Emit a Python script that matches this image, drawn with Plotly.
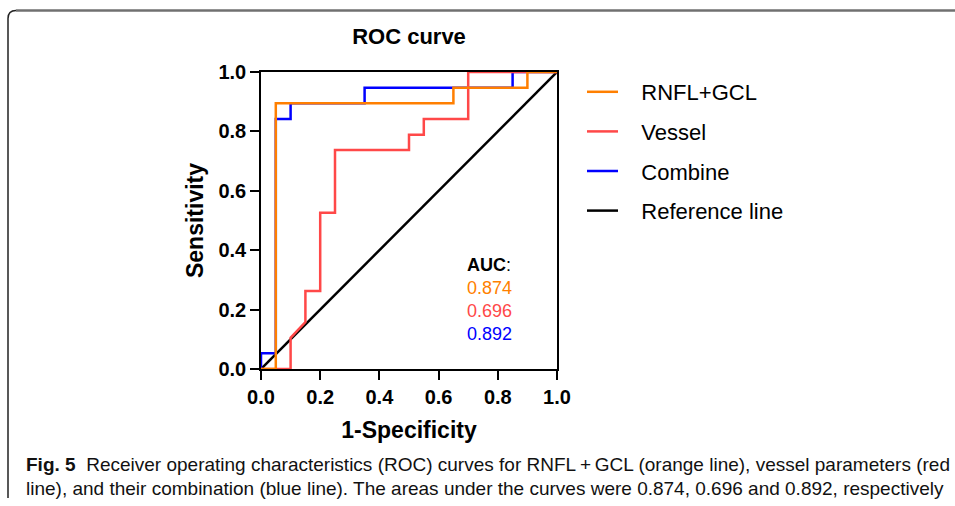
import plotly.graph_objects as go

# ---- data ----
rnfl_fpr = [0.0, 0.05, 0.05, 0.65, 0.65, 0.90, 0.90, 1.0]
rnfl_tpr = [0.0, 0.0, 0.895, 0.895, 0.947, 0.947, 1.0, 1.0]

vessel_fpr = [0.0, 0.10, 0.10, 0.15, 0.15, 0.20, 0.20, 0.25, 0.25, 0.50, 0.50, 0.55, 0.55, 0.70, 0.70, 1.0]
vessel_tpr = [0.0, 0.0, 0.105, 0.158, 0.263, 0.263, 0.526, 0.526, 0.737, 0.737, 0.789, 0.789, 0.842, 0.842, 1.0, 1.0]

combine_fpr = [0.0, 0.0, 0.05, 0.05, 0.10, 0.10, 0.35, 0.35, 0.85, 0.85, 1.0]
combine_tpr = [0.0, 0.053, 0.053, 0.842, 0.842, 0.895, 0.895, 0.947, 0.947, 1.0, 1.0]

ref_x = [0.0, 1.0]
ref_y = [0.0, 1.0]

series_names = ["RNFL+GCL", "Vessel", "Combine", "Reference line"]
auc_values = ["0.874", "0.696", "0.892"]
tick_vals = [0.0, 0.2, 0.4, 0.6, 0.8, 1.0]

ORANGE = "#FF7F00"
RED = "#FF4848"
BLUE = "#0000FF"
BLACK = "#000000"

FONT = "Liberation Sans, Arial, sans-serif"
NB = "\u00a0\u00a0\u00a0"
LW = 2.5

fig = go.Figure()
# draw order: reference, combine, vessel, rnfl (rnfl on top); legend order via legendrank
fig.add_trace(go.Scatter(x=ref_x, y=ref_y, mode="lines", name=NB + series_names[3],
                         legendgroup="d", legendrank=4, line=dict(color=BLACK, width=LW)))
fig.add_trace(go.Scatter(x=combine_fpr, y=combine_tpr, mode="lines", name=NB + series_names[2],
                         legendgroup="c", legendrank=3, line=dict(color=BLUE, width=LW)))
fig.add_trace(go.Scatter(x=vessel_fpr, y=vessel_tpr, mode="lines", name=NB + series_names[1],
                         legendgroup="b", legendrank=2, line=dict(color=RED, width=LW)))
fig.add_trace(go.Scatter(x=rnfl_fpr, y=rnfl_tpr, mode="lines", name=NB + series_names[0],
                         legendgroup="a", legendrank=1, line=dict(color=ORANGE, width=LW)))

W, H = 955, 506
L, R, T, B = 261, 557, 72, 369
pw, ph = R - L, B - T

def px(xp):
    return (xp - L) / pw

def py(yp):
    return (B - yp) / ph

axis_common = dict(
    range=[0, 1], tickvals=tick_vals, tickformat=".1f",
    showline=True, linecolor=BLACK, linewidth=1.5, mirror=True,
    ticks="outside", ticklen=9, tickwidth=1.5, tickcolor=BLACK,
    showgrid=False, zeroline=False, layer="below traces",
    tickfont=dict(family=FONT, size=20, color=BLACK, weight="bold"),
)

fig.update_layout(
    width=W, height=H,
    margin=dict(l=L, r=W - R, t=T, b=H - B),
    paper_bgcolor="white", plot_bgcolor="white",
    title=dict(text="<b>ROC curve</b>", x=px(409), xref="paper", xanchor="center",
               y=1 - 36 / H, yref="container", yanchor="middle",
               font=dict(family=FONT, size=22, color=BLACK)),
    xaxis=dict(axis_common, title=dict(text="<b>1-Specificity</b>", standoff=15,
                                       font=dict(family=FONT, size=23, color=BLACK))),
    yaxis=dict(axis_common, title=dict(text="<b>Sensitivity</b>", standoff=8,
                                       font=dict(family=FONT, size=23, color=BLACK))),
    showlegend=True,
    legend=dict(x=px(582), y=py(71), xanchor="left", yanchor="top",
                traceorder="grouped", tracegroupgap=8, itemwidth=31,
                font=dict(family=FONT, size=22, color=BLACK), bgcolor="rgba(0,0,0,0)"),
)

# AUC annotation block
auc_colors = [ORANGE, RED, BLUE]
fig.add_annotation(x=px(465), y=py(265), xref="paper", yref="paper", xanchor="left", yanchor="middle",
                   text="<b>AUC</b>:", showarrow=False, font=dict(family=FONT, size=18, color=BLACK))
for i, (v, c) in enumerate(zip(auc_values, auc_colors)):
    fig.add_annotation(x=px(465), y=py(288 + 23 * i), xref="paper", yref="paper",
                       xanchor="left", yanchor="middle", text=v, showarrow=False,
                       font=dict(family=FONT, size=18, color=c))

# caption
CAP_FONT = "Liberation Sans, Arial, sans-serif"
cap1 = "<b>Fig. 5</b>  Receiver operating characteristics (ROC) curves for RNFL\u2009+\u2009GCL (orange line), vessel parameters (red"
cap2 = "line), and their combination (blue line). The areas under the curves were 0.874, 0.696 and 0.892, respectively"
fig.add_annotation(x=px(24), y=py(464), xref="paper", yref="paper", xanchor="left", yanchor="middle",
                   text=cap1, showarrow=False, font=dict(family=CAP_FONT, size=19, color="#111111"))
fig.add_annotation(x=px(24), y=py(488), xref="paper", yref="paper", xanchor="left", yanchor="middle",
                   text=cap2, showarrow=False, font=dict(family=CAP_FONT, size=19, color="#111111"))

# figure frame (rounded top-left corner)
x0, yt, r = px(8), py(10.5), 8
fig.add_shape(type="line", xref="paper", yref="paper", x0=px(16), y0=yt, x1=px(965), y1=yt,
              line=dict(color="#707070", width=2.5))
fig.add_shape(type="path", xref="paper", yref="paper",
              path=f"M {x0},{py(498)} L {x0},{py(10.5 + r)} Q {x0},{yt} {px(16)},{yt}",
              line=dict(color="#222222", width=1.5))

fig.write_html("out.html")
